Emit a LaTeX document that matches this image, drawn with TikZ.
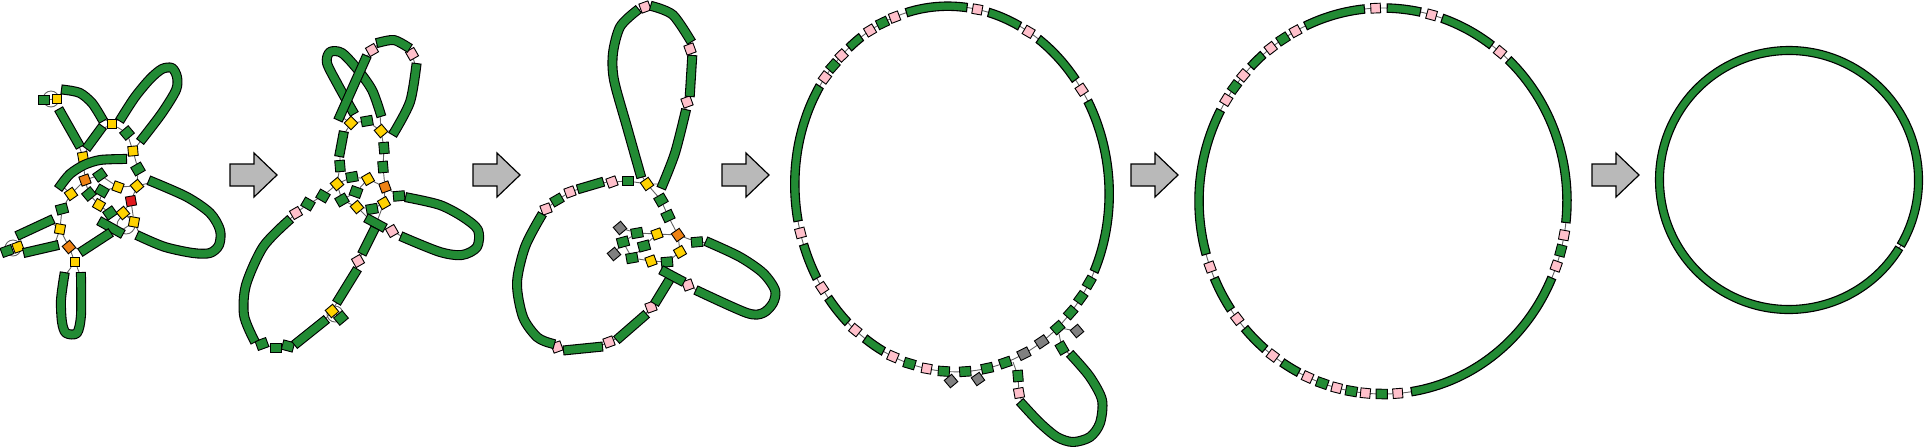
\documentclass[tikz,border=0pt]{standalone}
\usetikzlibrary{backgrounds}
\definecolor{bandgreen}{RGB}{34,139,52}
\definecolor{boxyellow}{RGB}{255,210,0}
\definecolor{boxorange}{RGB}{238,130,20}
\definecolor{boxred}{RGB}{225,25,30}
\definecolor{boxpink}{RGB}{255,192,203}
\definecolor{boxgray}{RGB}{128,128,128}
\definecolor{linkgray}{RGB}{100,100,100}
\definecolor{arrowgray}{RGB}{185,185,185}

\begin{document}
\begin{tikzpicture}[x=0.5pt,y=-0.5pt]

  \tikzstyle{every node}=[draw=black,line width=0.45pt,inner sep=0pt,minimum size=4.8pt]
  \tikzstyle{band}=[draw=black,line width=5pt,line cap=rect,line join=round,postaction={draw=bandgreen,line width=3.9pt}]
  \tikzstyle{sector}=[draw=black,fill=bandgreen,line width=0.55pt]
  \tikzstyle{link}=[draw=linkgray,line width=0.45pt]
  \tikzstyle{ybox}=[fill=boxyellow]
  \tikzstyle{obox}=[fill=boxorange]
  \tikzstyle{rbox}=[fill=boxred]
  \tikzstyle{pbox}=[fill=boxpink]
  \tikzstyle{kbox}=[fill=boxgray]
  \tikzstyle{gbox}=[fill=bandgreen,minimum width=5.6pt,minimum height=4.8pt]
  \tikzstyle{stagearrow}=[draw=black,fill=arrowgray,line width=0.6pt]

  \useasboundingbox (0,0) rectangle (1926,446);

  % stage 1
  \foreach \n/\p/\r in {ay1/{57,99}/0, ay2/{112,124}/0, ay3/{133,151}/5, ay4/{83,157}/10,
      ay5/{71,194}/35, ay6/{118,187}/-20, ay7/{137,186}/40, ay8/{99,205}/-30, ay9/{123,213}/40,
      ay10/{134,222}/-10, ay11/{60,229}/-10, ay12/{18,247}/20, ay13/{75,262}/0}
    \node[ybox,rotate=\r] (\n) at (\p) {};
  \foreach \n/\p/\r in {ao1/{85,180}/20, ao2/{69,247}/40}
    \node[obox,rotate=\r] (\n) at (\p) {};
  \node[rbox,rotate=10] (ar1) at (131,201) {};
  \foreach \n/\p/\r in {ag1/{44,100}/0, ag2/{127,133}/40, ag3/{138,169}/30, ag4/{100,175}/35,
      ag5/{89,194}/40, ag6/{102,191}/-30, ag7/{110,213}/35, ag8/{62,209}/15, ag9/{7,251}/20}
    \node[gbox,rotate=\r] (\n) at (\p) {};

  \draw[band] plot[smooth] coordinates {(66,90) (80,93) (92,103) (101,117)};
  \draw[band] (61,113) -- (78,143);
  \draw[band] (89,145) -- (100,130);
  \draw[band] plot[smooth] coordinates {(122,117) (135,97) (150,79) (162,69) (172,68) (177,77) (176,90) (162,113) (143,138)};
  \draw[band] plot[smooth] coordinates {(61,185) (70,174) (84,165) (100,160) (122,159)};
  \draw[band] plot[smooth] coordinates {(153,182) (187,197) (210,213) (220,230) (219,245) (210,253) (193,253) (165,247) (141,237)};
  \draw[band] (103,223) -- (119,232);
  \draw[band] (84,250) -- (107,235);
  \draw[band] (21,234) -- (49,221);
  \draw[band] (28,252) -- (54,246);
  \draw[band] plot[smooth] coordinates {(64,277) (61,300) (62,322) (66,333) (77,333) (81,315) (81,277)};

  \begin{pgfonlayer}{background}
    \draw[link] (51,99) circle[radius=8] (13,248) circle[radius=8] (126,225) circle[radius=9];
    \draw[link] (78,143) -- (ay4) -- (89,145);
    \draw[link] (100,130) -- (ay2) -- (101,117) (122,117) -- (ay2) -- (ag2) -- (ay3);
    \draw[link] (143,138) -- (ay3) -- (122,159) (ay3) -- (ag3) -- (ay7) -- (153,182);
    \draw[link] (ay7) -- (ay6) -- (ag4) -- (ao1) -- (ay4);
    \draw[link] (ao1) -- (ay5) -- (ag8) -- (ay11) -- (ao2) -- (ay13);
    \draw[link] (61,185) -- (ay5) (64,277) -- (ay13) -- (81,277) (ao2) -- (84,250);
    \draw[link] (107,235) -- (103,223) (119,232) -- (ay10) -- (141,237);
    \draw[link] (ay10) -- (ar1) -- (ay7) (ar1) -- (ay9) -- (ag7) -- (ay8) -- (ag5) -- (ao1);
    \draw[link] (ag6) -- (ay6) (ag6) -- (ay8) (ay9) -- (ay10);
    \draw[link] (49,221) -- (ay11) -- (54,246) (ag1) -- (ay1);
  \end{pgfonlayer}

  % stage 2
  \foreach \n/\p in {bp1/{372,50}, bp2/{412,54}, bp3/{392,231}, bp4/{358,261}, bp5/{296,213}}
    \node[pbox,rotate=30] (\n) at (\p) {};
  \foreach \n/\p/\r in {by1/{351,123}/45, by2/{381,131}/40, by3/{337,184}/40, by4/{368,179}/30,
      by5/{357,207}/40, by6/{384,203}/30, by7/{332,311}/40}
    \node[ybox,rotate=\r] (\n) at (\p) {};
  \node[obox,rotate=20] (bo1) at (385,187) {};
  \foreach \n/\p/\r in {bg1/{367,121}/10, bg2/{340,166}/95, bg3/{384,148}/95, bg4/{383,167}/95,
      bg5/{352,177}/10, bg6/{356,192}/-20, bg7/{342,200}/30, bg8/{372,209}/10, bg9/{399,196}/5,
      bg10/{323,196}/-30, bg11/{308,204}/-30, bg12/{341,318}/40, bg13/{262,344}/20,
      bg14/{276,348}/0, bg15/{288,346}/-15}
    \node[gbox,rotate=\r] (\n) at (\p) {};

  \draw[band] plot[smooth] coordinates {(352,110) (338,85) (327,63) (330,52) (342,53) (358,70) (372,90) (380,112)};
  \draw[band] (365,60) -- (340,116);
  \draw[band] plot[smooth] coordinates {(381,42) (394,40) (406,46)};
  \draw[band] plot[smooth] coordinates {(416,68) (410,102) (395,131)};
  \draw[band] (343,136) -- (340,152);
  \draw[band] plot[smooth] coordinates {(410,198) (440,205) (463,217) (478,230) (477,247) (462,255) (440,252) (405,238)};
  \draw[band] (370,220) -- (381,226);
  \draw[band] (373,232) -- (364,250);
  \draw[band] (355,273) -- (339,299);
  \draw[band] plot[smooth] coordinates {(287,222) (263,247) (246,285) (244,315) (253,338)};
  \draw[band] (298,342) -- (323,322);

  \begin{pgfonlayer}{background}
    \draw[link] (335,314) circle[radius=8];
    \draw[link] (365,59) -- (bp1) -- (381,42) (406,46) -- (bp2) -- (416,68);
    \draw[link] (352,110) -- (by1) -- (340,116) (by1) -- (bg1) -- (by2) -- (380,113) (395,131) -- (by2);
    \draw[link] (by1) -- (343,136) (340,152) -- (bg2) -- (by3) (by2) -- (bg3) -- (bg4) -- (bo1);
    \draw[link] (by3) -- (bg5) -- (by4) -- (bo1) -- (by6) -- (bg8) -- (by5) -- (bg7) -- (by3);
    \draw[link] (by4) -- (bg6) -- (bg7) (bo1) -- (bg9) -- (410,198);
    \draw[link] (by5) -- (370,220) (381,226) -- (bp3) -- (405,238) (by6) -- (373,232);
    \draw[link] (364,250) -- (bp4) -- (355,273) (339,299) -- (by7) -- (323,322) (by7) -- (bg12);
    \draw[link] (by3) -- (bg10) -- (bg11) -- (bp5) -- (287,222);
    \draw[link] (253,338) -- (bg13) -- (bg14) -- (bg15) -- (298,342);
  \end{pgfonlayer}

  % stage 3
  \foreach \n/\p in {cp1/{645,7}, cp2/{690,49}, cp3/{687,102}, cp4/{612,182}, cp5/{570,192},
      cp6/{546,209}, cp7/{557,347}, cp8/{609,342}, cp9/{651,307}, cp10/{688,285}}
    \node[pbox,rotate=20] (\n) at (\p) {};
  \foreach \n/\p/\r in {cy1/{647,184}/35, cy2/{657,234}/20, cy3/{651,261}/20, cy4/{680,252}/30}
    \node[ybox,rotate=\r] (\n) at (\p) {};
  \node[obox,rotate=35] (co1) at (678,235) {};
  \foreach \n/\p/\r in {cg1/{628,181}/0, cg2/{557,200}/30, cg3/{661,200}/30, cg4/{668,216}/25,
      cg5/{637,233}/10, cg6/{623,242}/15, cg7/{644,246}/15, cg8/{632,258}/10, cg9/{667,262}/5,
      cg10/{697,242}/5}
    \node[gbox,rotate=\r] (\n) at (\p) {};
  \foreach \n/\p in {ck1/{620,228}, ck2/{614,254}}
    \node[kbox,rotate=40] (\n) at (\p) {};

  \draw[band] plot[smooth] coordinates {(640,173) (627,127) (614,80) (613,53) (620,27) (635,12)};
  \draw[band] plot[smooth] coordinates {(655,7) (673,15) (689,38)};
  \draw[band] (692,60) -- (690,92);
  \draw[band] plot[smooth] coordinates {(685,114) (675,153) (663,184)};
  \draw[band] (599,183) -- (582,188);
  \draw[band] plot[smooth] coordinates {(540,218) (525,247) (517,283) (523,317) (537,337) (550,343)};
  \draw[band] (568,350) -- (598,347);
  \draw[band] (620,337) -- (643,317);
  \draw[band] (657,300) -- (668,282);
  \draw[band] (665,272) -- (680,280);
  \draw[band] plot[smooth] coordinates {(710,243) (740,257) (763,273) (775,290) (773,303) (763,313) (747,313) (700,292)};

  \begin{pgfonlayer}{background}
    \draw[link] (635,12) -- (cp1) -- (655,7) (689,38) -- (cp2) -- (692,60) (690,92) -- (cp3) -- (685,114);
    \draw[link] (640,173) -- (cy1) -- (663,184) (cy1) -- (cg1) -- (cp4) -- (599,183);
    \draw[link] (582,188) -- (cp5) -- (cg2) -- (cp6) -- (540,218);
    \draw[link] (cy1) -- (cg3) -- (cg4) -- (co1) -- (cg10) -- (710,243);
    \draw[link] (co1) -- (cy2) -- (cg5) -- (ck1) (cg5) -- (cg6) -- (cg8) -- (cy3) -- (cg9) -- (cy4) -- (co1);
    \draw[link] (cy2) -- (cg7) -- (cg8) (cg6) -- (ck2) (cg9) -- (668,282);
    \draw[link] (680,280) -- (cp10) -- (700,292) (657,300) -- (cp9) -- (643,317);
    \draw[link] (620,337) -- (cp8) -- (598,347) (568,350) -- (cp7) -- (550,343);
  \end{pgfonlayer}

  % stage 4
  \begin{scope}[shift={(952,189)},rotate=5]
    \begin{pgfonlayer}{background}
      \draw[link] (0,0) ellipse[x radius=157,y radius=183];
    \end{pgfonlayer}
    \foreach \a/\b in {259/281.3, 289.3/301.3, 309.2/327.6, 335.6/391.1, 121.7/129.4,
        137.4/147.7, 155.1/166.6, 174.2/218.5, 234.9/240.5}
      \draw[sector] (\a:161.2 and 187.2) arc[start angle=\a,end angle=\b,x radius=161.2,y radius=187.2]
        -- (\b:152.8 and 178.8) arc[start angle=\b,end angle=\a,x radius=152.8,y radius=178.8] -- cycle;
    \foreach \a [count=\i] in {285.1, 305, 331.4, 105.1, 117.9, 133.8, 151.5, 170.4, 221.9, 231.2, 244.4, 254.4}
      \node[pbox,rotate={95-(\a)}] (dp\i) at (\a:157 and 183) {};
    \foreach \a [count=\i] in {35, 40.8, 46.8, 53.6, 76, 82.9, 91, 98.8, 111.5, 226.6, 249.6}
      \node[gbox,rotate={95-(\a)}] (dg\i) at (\a:157 and 183) {};
    \foreach \a [count=\i] in {61, 68.6}
      \node[kbox,minimum width=5.6pt,rotate={95-(\a)}] (dk\i) at (\a:157 and 183) {};
  \end{scope}
  \node[kbox,rotate=40] (dk3) at (1077,331) {};
  \node[kbox,rotate=35] (dk4) at (978,379) {};
  \node[kbox,rotate=40] (dk5) at (951,381) {};
  \node[gbox,rotate=120] (dg12) at (1062,348) {};
  \node[gbox,rotate=95] (dg13) at (1018,376) {};
  \node[pbox,rotate=10] (dp13) at (1019,393) {};
  \coordinate (djoin) at (1013,362);
  \draw[band] plot[smooth] coordinates {(1073,357) (1090,377) (1102,400) (1100,423) (1090,437) (1073,442) (1057,437) (1040,423) (1023,405)};
  \begin{pgfonlayer}{background}
    \draw[link] (dk3) -- (dg4) -- (dg12) -- (1073,357);
    \draw[link] (dk4) -- (dg6) (dk5) -- (dg8);
    \draw[link] (1023,405) -- (dp13) -- (dg13) -- (djoin);
  \end{pgfonlayer}

  % stage 5
  \begin{scope}[shift={(1383,201)}]
    \begin{pgfonlayer}{background}
      \draw[link] (0,0) ellipse[x radius=184,y radius=193];
    \end{pgfonlayer}
    \foreach \a/\b in {-114.9/-95.8, -88.7/-78.3, -71.2/-53.8, -47/6.4, 23.5/81.1, 117.3/123.2,
        129.9/138.7, 145.8/156.4, 164/208, 224.1/229.3}
      \draw[sector] (\a:188.2 and 197.2) arc[start angle=\a,end angle=\b,x radius=188.2,y radius=197.2]
        -- (\b:179.8 and 188.8) arc[start angle=\b,end angle=\a,x radius=179.8,y radius=188.8] -- cycle;
    \foreach \a [count=\i] in {-92.3, -74.7, -50.5, 10.2, 19.7, 85.4, 95.5, 104.6, 114.2, 126.8,
        142.4, 160, 211.6, 220.6, 232.4, 241.6}
      \node[pbox,rotate={90-(\a)}] (ep\i) at (\a:184 and 193) {};
    \foreach \a [count=\i] in {14.9, 90.4, 99.9, 109.3, 216.2, 237.1}
      \node[gbox,rotate={90-(\a)}] (eg\i) at (\a:184 and 193) {};
  \end{scope}

  % stage 6
  \begin{scope}[shift={(1789,180)}]
    \begin{pgfonlayer}{background}
      \draw[link] (0,0) circle[radius=129.5];
    \end{pgfonlayer}
    \draw[sector] (31.8:133.5) arc[start angle=31.8,end angle=390.2,radius=133.5]
      -- (390.2:125.5) arc[start angle=390.2,end angle=31.8,radius=125.5] -- cycle;
  \end{scope}

  \foreach \x in {230,473,722,1131,1592}
    \draw[stagearrow] (\x,164) -- ++(24,0) -- ++(0,-11) -- ++(23,22) -- ++(-23,22) -- ++(0,-11) -- ++(-24,0) -- cycle;

\end{tikzpicture}
\end{document}
